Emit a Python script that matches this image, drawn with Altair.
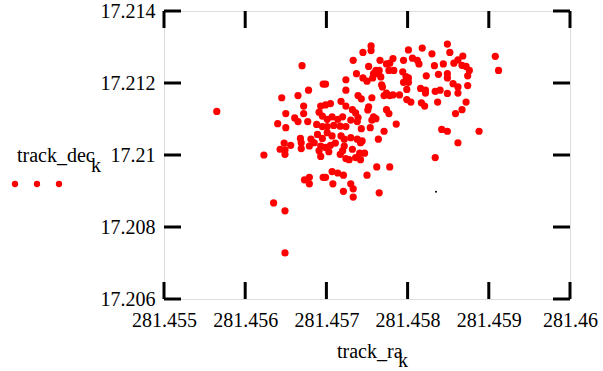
import altair as alt
import pandas as pd

# ---- data ----
track_ra = [
    281.45755, 281.45755, 281.45849, 281.45745, 281.45801, 281.45818, 281.45830, 281.45852,
    281.45908, 281.45912, 281.45733, 281.45766, 281.45774, 281.45778, 281.45782, 281.45795,
    281.45806, 281.45812, 281.45814, 281.45844, 281.45857, 281.45862, 281.45868, 281.45867,
    281.45872, 281.45876, 281.45752, 281.45833, 281.45670, 281.45737, 281.45761, 281.45765,
    281.45758, 281.45764, 281.45777, 281.45783, 281.45794, 281.45745, 281.45750, 281.45757,
    281.45767, 281.45798, 281.45801, 281.45795, 281.45801, 281.45823, 281.45838, 281.45849,
    281.45849, 281.45874, 281.45724, 281.45696, 281.45699, 281.45768, 281.45769, 281.45799,
    281.45816, 281.45822, 281.45822, 281.45834, 281.45840, 281.45856, 281.45862, 281.45874,
    281.45849, 281.45862, 281.45724, 281.45678, 281.45645, 281.45665, 281.45739, 281.45743,
    281.45756, 281.45774, 281.45771, 281.45778, 281.45782, 281.45790, 281.45799, 281.45804,
    281.45817, 281.45821, 281.45837, 281.45872, 281.45867, 281.45859, 281.45565, 281.45672,
    281.45650, 281.45661, 281.45665, 281.45672, 281.45677, 281.45640, 281.45650, 281.45693,
    281.45699, 281.45705, 281.45718, 281.45724, 281.45732, 281.45736, 281.45739, 281.45730,
    281.45738, 281.45743, 281.45691, 281.45695, 281.45701, 281.45707, 281.45714, 281.45720,
    281.45688, 281.45695, 281.45701, 281.45709, 281.45717, 281.45724, 281.45689, 281.45695,
    281.45681, 281.45685, 281.45701, 281.45707, 281.45718, 281.45722, 281.45730, 281.45738,
    281.45742, 281.45656, 281.45669, 281.45669, 281.45679, 281.45693, 281.45699, 281.45705,
    281.45711, 281.45722, 281.45732, 281.45752, 281.45751, 281.45774, 281.45777, 281.45758,
    281.45756, 281.45761, 281.45754, 281.45786, 281.45771, 281.45764, 281.45744, 281.45842,
    281.45849, 281.45888, 281.45862, 281.45649, 281.45643, 281.45623, 281.45691, 281.45693,
    281.45703, 281.45720, 281.45724, 281.45728, 281.45717, 281.45736, 281.45742, 281.45747,
    281.45741, 281.45834, 281.45762, 281.45778, 281.45673, 281.45679, 281.45679, 281.45696,
    281.45699, 281.45707, 281.45714, 281.45721, 281.45750, 281.45708, 281.45721, 281.45730,
    281.45733, 281.45733, 281.45765, 281.45635, 281.45649, 281.45649, 281.45649, 281.45668,
    281.45648,
]
track_dec = [
    17.21303, 17.21290, 17.21308, 17.21285, 17.21292, 17.21297, 17.21281, 17.21285,
    17.21274, 17.21235, 17.21263, 17.21263, 17.21253, 17.21255, 17.21268, 17.21263,
    17.21269, 17.21263, 17.21253, 17.21253, 17.21255, 17.21264, 17.21275, 17.21249,
    17.21246, 17.21235, 17.21246, 17.21248, 17.21248, 17.21226, 17.21235, 17.21235,
    17.21226, 17.21226, 17.21235, 17.21235, 17.21231, 17.21214, 17.21205, 17.21214,
    17.21217, 17.21218, 17.21214, 17.21202, 17.21202, 17.21220, 17.21224, 17.21226,
    17.21214, 17.21220, 17.21209, 17.21197, 17.21197, 17.21195, 17.21189, 17.21182,
    17.21185, 17.21180, 17.21172, 17.21177, 17.21180, 17.21198, 17.21189, 17.21193,
    17.21171, 17.21172, 17.21180, 17.21180, 17.21159, 17.21165, 17.21165, 17.21156,
    17.21159, 17.21172, 17.21165, 17.21165, 17.21167, 17.21167, 17.21154, 17.21147,
    17.21145, 17.21136, 17.21147, 17.21147, 17.21126, 17.21115, 17.21121, 17.21136,
    17.21115, 17.21103, 17.21093, 17.21115, 17.21093, 17.21087, 17.21076, 17.21136,
    17.21139, 17.21143, 17.21149, 17.21136, 17.21126, 17.21117, 17.21104, 17.21097,
    17.21093, 17.21073, 17.21119, 17.21108, 17.21099, 17.21106, 17.21099, 17.21106,
    17.21085, 17.21079, 17.21079, 17.21082, 17.21080, 17.21079, 17.21057, 17.21046,
    17.21044, 17.21034, 17.21062, 17.21053, 17.21053, 17.21044, 17.21048, 17.21044,
    17.21034, 17.21027, 17.21034, 17.21018, 17.21025, 17.21025, 17.21021, 17.21027,
    17.21033, 17.21025, 17.21016, 17.21134, 17.21125, 17.21126, 17.21115, 17.21106,
    17.21097, 17.21101, 17.21076, 17.21086, 17.21066, 17.21044, 17.21039, 17.21071,
    17.21066, 17.21066, 17.21034, 17.21002, 17.21016, 17.21000, 17.21012, 17.20996,
    17.21009, 17.21012, 17.20990, 17.20987, 17.21002, 17.20993, 17.20987, 17.21005,
    17.21005, 17.20993, 17.20967, 17.20967, 17.20931, 17.20938, 17.20920, 17.20938,
    17.20938, 17.20954, 17.20950, 17.20944, 17.20944, 17.20920, 17.20899, 17.20920,
    17.20906, 17.20883, 17.20895, 17.20867, 17.20845, 17.20728, 17.21014, 17.21046,
    17.21033,
]
extra_ra = [281.45835]
extra_dec = [17.20898]

x_ticks = [281.455, 281.456, 281.457, 281.458, 281.459, 281.46]
y_ticks = [17.206, 17.208, 17.21, 17.212, 17.214]

W, H = 406, 288
TICK = 17
FONT = "Liberation Serif"
FS = 20
RED = "#ff0000"

df = pd.DataFrame({"ra": track_ra, "dec": track_dec})
df_extra = pd.DataFrame({"ra": extra_ra, "dec": extra_dec})
df_xt = pd.DataFrame({"t": x_ticks})
df_yt = pd.DataFrame({"t": y_ticks})

xscale = alt.Scale(domain=[281.455, 281.46], nice=False, zero=False)
yscale = alt.Scale(domain=[17.206, 17.214], nice=False, zero=False)

xaxis = alt.Axis(values=x_ticks, format=".3~f", title=None, grid=False, domain=False,
                 ticks=False, labelFont=FONT, labelFontSize=FS, labelColor="black",
                 labelPadding=11, labelOverlap=False, labelFlush=False)
yaxis = alt.Axis(values=y_ticks, format=".3~f", title=None, grid=False, domain=False,
                 ticks=False, labelFont=FONT, labelFontSize=FS, labelColor="black",
                 labelPadding=9, labelOverlap=False, labelFlush=False, labelBaseline="middle")

points = alt.Chart(df).mark_circle(size=52, opacity=1, color=RED).encode(
    x=alt.X("ra:Q", scale=xscale, axis=xaxis),
    y=alt.Y("dec:Q", scale=yscale, axis=yaxis),
)
extra = alt.Chart(df_extra).mark_circle(size=4, opacity=1, color="black").encode(
    x=alt.X("ra:Q", scale=xscale), y=alt.Y("dec:Q", scale=yscale)
)

tick_style = dict(color="black", strokeWidth=3)
bottom_ticks = alt.Chart(df_xt).mark_rule(**tick_style).encode(
    x=alt.X("t:Q", scale=xscale), y=alt.value(H), y2=alt.value(H - TICK))
top_ticks = alt.Chart(df_xt).mark_rule(**tick_style).encode(
    x=alt.X("t:Q", scale=xscale), y=alt.value(0), y2=alt.value(TICK))
left_ticks = alt.Chart(df_yt).mark_rule(**tick_style).encode(
    y=alt.Y("t:Q", scale=yscale), x=alt.value(0), x2=alt.value(TICK))
right_ticks = alt.Chart(df_yt).mark_rule(**tick_style).encode(
    y=alt.Y("t:Q", scale=yscale), x=alt.value(W - TICK), x2=alt.value(W))

one = alt.Data(values=[{}])


def label(txt, x, y, size=FS):
    return alt.Chart(one).mark_text(font=FONT, fontSize=size, color="black",
                                    align="left", baseline="alphabetic").encode(
        x=alt.value(x), y=alt.value(y), text=alt.value(txt))


texts = [
    label("track_dec", -147, 151),
    label("k", -73, 161),
    label("track_ra", 173, 347),
    label("k", 234, 356),
]

legend_dots = [
    alt.Chart(one).mark_circle(size=40, opacity=1, color=RED).encode(
        x=alt.value(px), y=alt.value(173))
    for px in (-149, -127, -105)
]

chart = alt.layer(
    points, extra, bottom_ticks, top_ticks, left_ticks, right_ticks, *texts, *legend_dots
).properties(
    width=W, height=H,
    autosize=alt.AutoSizeParams(type="none"),
    padding={"left": 164, "top": 11, "right": 33, "bottom": 72},
).configure_view(
    stroke="black", strokeWidth=3
).configure(background="white")

chart.save("out.html", embed_options={"renderer": "svg", "actions": False})
